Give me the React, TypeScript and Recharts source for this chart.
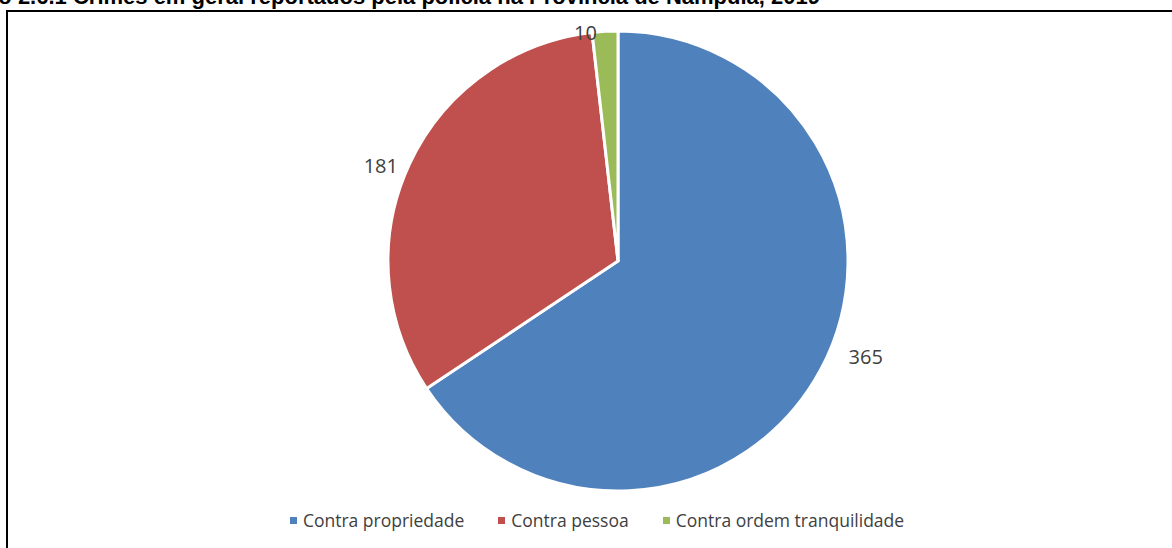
import React from "react";
import { PieChart, Pie, Cell, Legend } from "recharts";

const categories = ["Contra propriedade", "Contra pessoa", "Contra ordem tranquilidade"];
const crimes = [365, 181, 10];
const colors = ["#4F81BD", "#C0504D", "#9BBB59"];
// small nudges so the value labels sit where Excel's "best fit" put them
const labelNudge = [
  { dx: 22, dy: -25 },
  { dx: -5, dy: 12 },
  { dx: -18, dy: 27 },
];

const data = categories.map((name, i) => ({ name, value: crimes[i] }));

const RADIAN = Math.PI / 180;

const renderLabel = (props: any) => {
  const { cx, cy, midAngle, outerRadius, index, value } = props;
  const r = outerRadius + 26;
  const x = cx + r * Math.cos(-midAngle * RADIAN) + labelNudge[index].dx;
  const y = cy + r * Math.sin(-midAngle * RADIAN) + labelNudge[index].dy;
  return (
    <text
      x={x}
      y={y}
      fill="#404040"
      fontSize={20}
      fontFamily="'Open Sans', sans-serif"
      textAnchor="middle"
      dominantBaseline="central"
    >
      {value}
    </text>
  );
};

const LegendContent = () => (
  <div
    style={{
      display: "flex",
      justifyContent: "center",
      gap: 34,
      transform: "translateX(11px)",
      fontFamily: "'Open Sans', sans-serif",
      fontSize: 17.5,
      color: "#404040",
    }}
  >
    {categories.map((c, i) => (
      <div key={c} style={{ display: "flex", alignItems: "center" }}>
        <span style={{ width: 7, height: 7, background: colors[i], marginRight: 6 }} />
        <span>{c}</span>
      </div>
    ))}
  </div>
);

export default function App() {
  return (
    <div style={{ position: "absolute", left: 0, top: 0, width: 1172, height: 548, overflow: "hidden", background: "#fff" }}>
      <div
        style={{
          position: "absolute",
          right: 352,
          top: -16,
          whiteSpace: "nowrap",
          textAlign: "right",
          fontFamily: "'Liberation Sans', Arial, sans-serif",
          fontWeight: "bold",
          fontSize: 22,
          color: "#000",
        }}
      >
        Gráfico 2.6.1 Crimes em geral reportados pela polícia na Província de Nampula, 2019
      </div>
      <div
        style={{
          position: "absolute",
          left: 6,
          top: 10,
          width: 1180,
          height: 560,
          border: "2px solid #000",
          boxSizing: "border-box",
        }}
      />
      <div style={{ position: "absolute", left: 0, top: 0 }}>
        <PieChart width={1172} height={548} margin={{ top: 0, right: 0, bottom: 0, left: 0 }}>
          <Pie
            data={data}
            dataKey="value"
            nameKey="name"
            cx={618}
            cy={261}
            outerRadius={230}
            startAngle={90}
            endAngle={-270}
            stroke="#fff"
            strokeWidth={3}
            label={renderLabel}
            labelLine={false}
            isAnimationActive={false}
          >
            {data.map((d, i) => (
              <Cell key={d.name} fill={colors[i]} />
            ))}
          </Pie>
          <Legend
            content={<LegendContent />}
            verticalAlign="bottom"
            wrapperStyle={{ left: 0, width: 1172, bottom: 16 }}
          />
        </PieChart>
      </div>
    </div>
  );
}
